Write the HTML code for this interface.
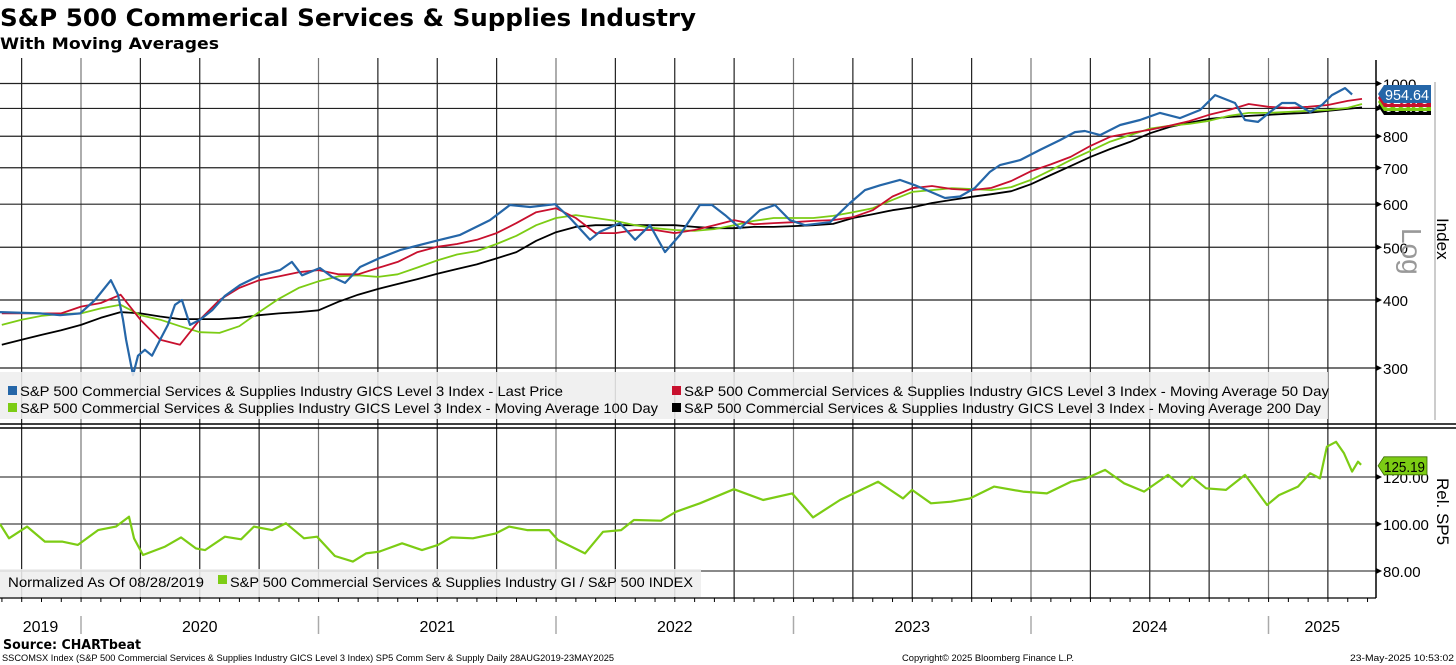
<!DOCTYPE html>
<html><head><meta charset="utf-8"><style>
html,body{margin:0;padding:0;background:#fff;}
svg{display:block;font-family:"Liberation Sans","DejaVu Sans",sans-serif;}
</style></head><body>
<svg id="chart" width="1456" height="665" viewBox="0 0 1456 665" xmlns="http://www.w3.org/2000/svg">
<rect x="0" y="0" width="1456" height="665" fill="#fff"/>
<text x="0" y="26" font-family="DejaVu Sans, sans-serif" font-weight="bold" font-size="24" textLength="696" lengthAdjust="spacingAndGlyphs">S&amp;P 500 Commerical Services &amp; Supplies Industry</text>
<text x="0" y="49" font-family="DejaVu Sans, sans-serif" font-weight="bold" font-size="16" textLength="219" lengthAdjust="spacingAndGlyphs">With Moving Averages</text>
<g id="grid"></g>
<g id="series"></g>
<g id="overlay"></g>
<text x="3" y="649" font-family="DejaVu Sans, sans-serif" font-weight="bold" font-size="13" textLength="138" lengthAdjust="spacingAndGlyphs">Source: CHARTbeat</text>
<text x="2" y="661" font-size="9" textLength="612" lengthAdjust="spacingAndGlyphs">SSCOMSX Index (S&amp;P 500 Commercial Services &amp; Supplies Industry GICS Level 3 Index) SP5 Comm Serv &amp; Supply  Daily 28AUG2019-23MAY2025</text>
<text x="902" y="661" font-size="9" textLength="172" lengthAdjust="spacingAndGlyphs">Copyright© 2025 Bloomberg Finance L.P.</text>
<text x="1350" y="661" font-size="9" textLength="104" lengthAdjust="spacingAndGlyphs">23-May-2025 10:53:02</text>
</svg>
<script>
// ---- data ----
const priceDates = [2019.659,2019.827,2019.912,2019.996,2020.059,2020.126,2020.156,2020.177,2020.190,2020.219,2020.240,2020.269,2020.299,2020.333,2020.366,2020.396,2020.425,2020.459,2020.501,2020.552,2020.606,2020.669,2020.754,2020.838,2020.888,2020.931,2021.006,2021.057,2021.112,2021.175,2021.259,2021.343,2021.427,2021.512,2021.596,2021.722,2021.806,2021.891,2021.996,2022.059,2022.143,2022.185,2022.269,2022.333,2022.396,2022.459,2022.522,2022.606,2022.657,2022.712,2022.775,2022.859,2022.922,2022.985,2023.048,2023.154,2023.238,2023.301,2023.364,2023.448,2023.512,2023.575,2023.638,2023.701,2023.764,2023.827,2023.869,2023.954,2024.038,2024.122,2024.185,2024.227,2024.291,2024.375,2024.459,2024.543,2024.627,2024.712,2024.775,2024.859,2024.901,2024.956,2025.006,2025.057,2025.112,2025.175,2025.225,2025.267,2025.322,2025.352,2025.390];
const priceValues = [380,378,375,378,400,435,409,368,338,291,316,324,316,338,360,392,400,360,368,383,407,426,444,454,470,444,458,441,430,460,478,494,505,516,527,561,598,593,600,566,516,534,554,516,549,490,527,598,598,573,542,585,598,561,549,556,603,637,650,665,650,633,616,620,643,688,708,723,755,787,814,818,804,839,857,883,864,894,952,921,857,850,886,921,921,886,913,952,981,954.64];
const maMonths = ["2019-09","2019-10","2019-11","2019-12","2020-01","2020-02","2020-03","2020-04","2020-05","2020-06","2020-07","2020-08","2020-09","2020-10","2020-11","2020-12","2021-01","2021-02","2021-03","2021-04","2021-05","2021-06","2021-07","2021-08","2021-09","2021-10","2021-11","2021-12","2022-01","2022-02","2022-03","2022-04","2022-05","2022-06","2022-07","2022-08","2022-09","2022-10","2022-11","2022-12","2023-01","2023-02","2023-03","2023-04","2023-05","2023-06","2023-07","2023-08","2023-09","2023-10","2023-11","2023-12","2024-01","2024-02","2024-03","2024-04","2024-05","2024-06","2024-07","2024-08","2024-09","2024-10","2024-11","2024-12","2025-01","2025-02","2025-03","2025-04","2025-05","2025-05-23"];
const ma50Values = [378,378,378,378,389,395,409,368,338,331,368,400,421,435,442,450,454,446,446,458,470,490,501,507,516,531,554,580,590,566,531,531,538,538,531,538,549,561,551,554,556,559,561,568,585,620,642,648,640,637,643,662,690,710,733,768,798,811,822,836,853,876,894,917,906,902,906,913,929,937];
const ma100Values = [360,368,374,377,378,386,392,375,368,358,349,348,358,380,402,421,433,442,444,441,446,459,473,485,492,507,525,549,566,573,566,559,549,542,538,536,540,549,559,566,566,566,571,580,590,611,632,637,642,640,637,645,665,693,723,752,782,804,826,836,843,854,872,883,883,887,891,894,902,917];
const ma200Values = [331,338,345,352,360,371,380,378,373,369,369,369,371,375,378,380,383,397,409,419,428,437,447,456,465,477,490,514,533,545,549,549,549,549,549,545,542,542,545,545,547,549,552,566,575,585,592,603,611,619,626,634,653,679,705,733,758,781,810,832,847,861,868,872,876,880,883,891,898,904];
const relDates = [2019.659,2019.697,2019.773,2019.848,2019.920,2019.987,2020.072,2020.147,2020.202,2020.223,2020.261,2020.354,2020.421,2020.484,2020.522,2020.606,2020.674,2020.728,2020.804,2020.863,2020.939,2020.994,2021.069,2021.145,2021.200,2021.255,2021.352,2021.436,2021.503,2021.558,2021.650,2021.747,2021.802,2021.878,2021.971,2022.008,2022.122,2022.198,2022.274,2022.328,2022.442,2022.505,2022.606,2022.749,2022.872,2022.994,2023.082,2023.196,2023.356,2023.461,2023.499,2023.579,2023.663,2023.743,2023.844,2023.966,2024.067,2024.168,2024.232,2024.312,2024.392,2024.476,2024.577,2024.636,2024.678,2024.737,2024.821,2024.901,2024.994,2025.044,2025.124,2025.175,2025.217,2025.246,2025.284,2025.318,2025.352,2025.377,2025.390];
const relValues = [100,93.9,98.9,92.5,92.5,91.1,97.4,98.9,103.1,93.9,86.8,90.4,94.3,89.6,88.9,94.6,93.5,98.9,97.4,100.3,93.9,94.6,86.4,84.0,87.5,88.2,91.8,88.9,91.1,94.3,93.9,96.0,98.9,97.4,97.4,93.2,87.5,96.7,97.4,101.7,101.4,105.2,108.8,114.8,110.2,113.0,102.8,110.2,118.0,110.9,114.5,108.8,109.5,110.9,115.9,113.8,113.0,118.0,119.4,123.0,117.3,113.8,120.9,115.9,120.1,115.2,114.5,120.9,108.1,112.3,115.9,121.6,119.4,132.9,135.0,130.1,122.3,126.5,125.19];
const topTicks = [1000,900,800,700,600,500,400,300];
const topTickLabels = ["1000","","800","700","600","500","400","300"];
const relTicks = [120,100,80];
const relTickLabels = ["120.00","100.00","80.00"];
const yearLabels = ["2019","2020","2021","2022","2023","2024","2025"];
const tagValues = [954.64, 929.79, 909.09, 904.00];

// ---- axes ----
const NS = "http://www.w3.org/2000/svg";
function xAt(t){ return 81 + (t - 2020) * 237.5; }
function yTop(v){ return 300 - 544 * Math.log10(v / 400); }
function yRel(v){ return 524 - (v - 100) * 2.35; }
function monthT(s){ const p = s.split("-"); let t = +p[0] + (+p[1] - 1) / 12; if (p[2]) t += (+p[2] - 1) / 365; return t; }
function mk(tag, attrs, parent){ const e = document.createElementNS(NS, tag); for (const k in attrs) e.setAttribute(k, attrs[k]); parent.appendChild(e); return e; }
const grid = document.getElementById("grid"), series = document.getElementById("series"), overlay = document.getElementById("overlay");
const PR = 1376;

for (let q = 0; q < 23; q++) {
  const x = xAt(2019.75 + q * 0.25);
  if (x > PR) break;
  const l = mk("line", {x1:x, x2:x, y1:58, y2:598, stroke:(q % 4 === 1 ? "#777" : "#222"), "stroke-width":1.2}, grid);
  
  
}
topTicks.forEach((v, i) => {
  const y = yTop(v);
  const l = mk("line", {x1:0, x2:PR, y1:y, y2:y, stroke:"#222", "stroke-width":1.2}, grid);
  
  
  mk("path", {d:`M${PR} ${y-3}L${PR+6} ${y}L${PR} ${y+3}Z`, fill:"#000"}, grid);
  if (topTickLabels[i]) {
    const t = mk("text", {x:1383, y:y+6, "font-size":15}, grid);
    t.textContent = topTickLabels[i];
    
    
  }
});
relTicks.forEach((v, i) => {
  const y = yRel(v);
  const l = mk("line", {x1:0, x2:PR, y1:y, y2:y, stroke:"#444", "stroke-width":1.2}, grid);
  
  
  mk("path", {d:`M${PR} ${y-3}L${PR+6} ${y}L${PR} ${y+3}Z`, fill:"#000"}, grid);
  const t = mk("text", {x:1383, y:y+6, "font-size":15}, grid);
  t.textContent = relTickLabels[i];
  
  
});
mk("line", {x1:PR, x2:PR, y1:60, y2:598, stroke:"#000", "stroke-width":1.5}, grid);
mk("line", {x1:1435, x2:1435, y1:82, y2:420, stroke:"#999", "stroke-width":1}, grid);
mk("line", {x1:0, x2:1456, y1:424, y2:424, stroke:"#000", "stroke-width":1.5}, grid);
mk("line", {x1:0, x2:1456, y1:428, y2:428, stroke:"#000", "stroke-width":1.5}, grid);
mk("line", {x1:0, x2:PR, y1:598, y2:598, stroke:"#000", "stroke-width":1.2}, grid);

function line(dates, vals, yf, color, w, name){
  const d = dates.map((t, i) => (i ? "L" : "M") + xAt(t).toFixed(1) + " " + yf(vals[i]).toFixed(1)).join("");
  const p = mk("path", {d:d, fill:"none", stroke:color, "stroke-width":w, "stroke-linejoin":"round"}, series);
  
  
}
const maT = maMonths.map(monthT);
line(maT, ma200Values, yTop, "#000", 1.8, "ma200-line");
line(maT, ma100Values, yTop, "#7ccc14", 1.8, "ma100-line");
line(maT, ma50Values, yTop, "#c8102e", 1.8, "ma50-line");
line(priceDates, priceValues, yTop, "#2566a8", 2.2, "last-price-line");
line(relDates, relValues, yRel, "#7ccc14", 2.2, "relative-line");

const tagColors = ["#2566a8","#c8102e","#7ccc14","#000"];
for (let i = tagValues.length - 1; i >= 0; i--) {
  const y = 94 + i * 4;
  const g = mk("g", {}, overlay);
  
  
  mk("path", {d:`M1378 ${y}L1384 ${y-9}L1431 ${y-9}L1431 ${y+9}L1384 ${y+9}Z`, fill:tagColors[i]}, g);
  const t = mk("text", {x:1385, y:y+6, "font-size":15, fill:"#fff", textLength:44, lengthAdjust:"spacingAndGlyphs"}, g);
  t.textContent = tagValues[i].toFixed(2);
}
{
  const y = yRel(relValues[relValues.length - 1]) + 1;
  const g = mk("g", {}, overlay);
  
  
  mk("path", {d:`M1378 ${y}L1384 ${y-9}L1427 ${y-9}L1427 ${y+9}L1384 ${y+9}Z`, fill:"#7ccc14", stroke:"#3a6a00", "stroke-width":0.8}, g);
  const t = mk("text", {x:1384, y:y+6, "font-size":15, fill:"#000", textLength:41, lengthAdjust:"spacingAndGlyphs"}, g);
  t.textContent = relValues[relValues.length - 1].toFixed(2);
}
{
  const t1 = mk("text", {x:0, y:0, "font-size":28, fill:"#999", transform:"translate(1402,228) rotate(90)"}, overlay);
  t1.textContent = "Log";
  
  
  const t2 = mk("text", {x:0, y:0, "font-size":17, transform:"translate(1437,218) rotate(90)"}, overlay);
  t2.textContent = "Index";
  
  
  const t3 = mk("text", {x:0, y:0, "font-size":17, transform:"translate(1437,478) rotate(90)"}, overlay);
  t3.textContent = "Rel. SP5";
  
  
}
{
  const g = mk("g", {}, overlay);
  
  
  mk("rect", {x:0, y:372, width:1328, height:47, fill:"rgba(238,238,238,0.88)"}, g);
  const items = [
    [8, 395, "#2566a8", "S&P 500 Commercial Services & Supplies Industry GICS Level 3 Index - Last Price", 543],
    [672, 395, "#c8102e", "S&P 500 Commercial Services & Supplies Industry GICS Level 3 Index - Moving Average 50 Day", 645],
    [8, 412, "#7ccc14", "S&P 500 Commercial Services & Supplies Industry GICS Level 3 Index - Moving Average 100 Day", 638],
    [672, 412, "#000", "S&P 500 Commercial Services & Supplies Industry GICS Level 3 Index - Moving Average 200 Day", 637]
  ];
  items.forEach(it => {
    const e = mk("g", {}, g);
    
    
    mk("rect", {x:it[0], y:it[1]-9, width:9, height:9, fill:it[2]}, e);
    const t = mk("text", {x:it[0]+12, y:it[1]+1, "font-size":14, textLength:it[4], lengthAdjust:"spacingAndGlyphs"}, e);
    t.textContent = it[3];
  });
}
{
  const g = mk("g", {}, overlay);
  
  
  mk("rect", {x:0, y:569, width:701, height:28, fill:"rgba(238,238,238,0.88)"}, g);
  const t = mk("text", {x:8, y:587, "font-size":14, textLength:196, lengthAdjust:"spacingAndGlyphs"}, g);
  t.textContent = "Normalized As Of 08/28/2019";
  mk("rect", {x:218, y:575, width:9, height:9, fill:"#7ccc14"}, g);
  const t2 = mk("text", {x:230, y:587, "font-size":14, textLength:463, lengthAdjust:"spacingAndGlyphs"}, g);
  t2.textContent = "S&P 500 Commercial Services & Supplies Industry GI / S&P 500 INDEX";
}
for (let m = 0; m < 70; m++) {
  const x = xAt(2019.667 + m / 12);
  if (x > PR) break;
  mk("line", {x1:x, x2:x, y1:598, y2:602, stroke:"#000", "stroke-width":1}, grid);
}
yearLabels.forEach((s, i) => {
  const y0 = 2019 + i;
  const a = Math.max(0, xAt(y0)), b = Math.min(PR, xAt(y0 + 1));
  const t = mk("text", {x:(a + b) / 2, y:632, "font-size":16, "text-anchor":"middle"}, grid);
  t.textContent = s;
  
  
  if (i > 0) mk("line", {x1:xAt(y0), x2:xAt(y0), y1:616, y2:634, stroke:"#aaa", "stroke-width":1.5}, grid);
});
</script>
</body></html>
